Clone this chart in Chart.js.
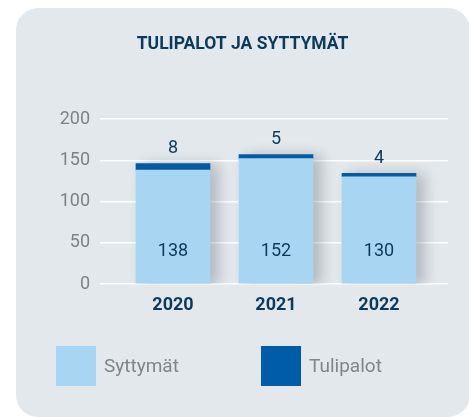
<!DOCTYPE html>
<html><head><meta charset="utf-8">
<script src="https://cdn.jsdelivr.net/npm/chart.js@4"></script>
<style>
html,body{margin:0;padding:0;background:#fff;}
#wrap{position:relative;width:469px;height:417px;overflow:hidden;}
#card{position:absolute;left:16px;top:8px;width:454px;height:409px;background:#e3e8ec;border-radius:22px;}
canvas{position:absolute;left:0;top:0;}
</style></head><body>
<div id="wrap"><div id="card"></div><canvas id="c" width="469" height="417"></canvas></div>
<script>
const chartTitle = 'TULIPALOT JA SYTTYMÄT';
const years = ['2020', '2021', '2022'];
const seriesNames = ['Syttymät', 'Tulipalot'];
const syttymat = [138, 152, 130];
const tulipalot = [8, 5, 4];
const yTickValues = [0, 50, 100, 150, 200];

const LIGHT = '#a7d5f2', DARK = '#005ca9', NAVY = '#0c3a5c', GRAY = '#7d8287';
const FONT = 'Roboto';

const barShadow = {
  id: 'barShadow',
  beforeDatasetsDraw(c) {
    const ctx = c.ctx; ctx.save();
    ctx.shadowColor = 'rgba(70,80,90,0.33)';
    ctx.shadowBlur = 14; ctx.shadowOffsetX = 8; ctx.shadowOffsetY = 2;
  },
  afterDatasetsDraw(c) { c.ctx.restore(); }
};
const valueLabels = {
  id: 'valueLabels',
  afterDatasetsDraw(c) {
    const ctx = c.ctx; ctx.save();
    ctx.font = '18px ' + FONT; ctx.fillStyle = NAVY;
    ctx.textAlign = 'center'; ctx.textBaseline = 'middle';
    c.getDatasetMeta(0).data.forEach((b, i) => ctx.fillText(String(syttymat[i]), b.x, b.base - 32));
    c.getDatasetMeta(1).data.forEach((b, i) => ctx.fillText(String(tulipalot[i]), b.x, b.y - 15));
    ctx.restore();
  }
};
const customLegend = {
  id: 'customLegend',
  afterDraw(c) {
    const ctx = c.ctx; ctx.save();
    const top = c.chartArea.bottom + 62;
    ctx.font = '19px ' + FONT; ctx.textBaseline = 'middle'; ctx.textAlign = 'left';
    c.data.datasets.forEach((ds, i) => {
      const x = 56 + i * 205;
      ctx.fillStyle = ds.backgroundColor; ctx.fillRect(x, top, 40, 40);
      ctx.fillStyle = '#80858a'; ctx.fillText(ds.label, x + 48, top + 21);
    });
    ctx.restore();
  }
};

new Chart(document.getElementById('c'), {
  type: 'bar',
  data: {
    datasets: [
      { label: seriesNames[0], data: syttymat.map((v, i) => ({ x: i, y: v })), backgroundColor: LIGHT, barThickness: 74 },
      { label: seriesNames[1], data: tulipalot.map((v, i) => ({ x: i, y: v })), backgroundColor: DARK, barThickness: 74 }
    ]
  },
  options: {
    responsive: false, animation: false, devicePixelRatio: 1,
    layout: { padding: { left: 37, right: 21, top: 0, bottom: 103 } },
    plugins: {
      legend: { display: false }, tooltip: { enabled: false },
      title: { display: true, text: chartTitle, color: NAVY,
        font: { family: FONT, size: 17.5, weight: 'bold' }, padding: { top: 34, bottom: 64 } }
    },
    scales: {
      x: {
        type: 'linear', stacked: true, offset: false, min: -0.7087, max: 2.6699,
        grid: { display: false }, border: { display: false },
        afterBuildTicks: s => { s.ticks = years.map((_, i) => ({ value: i })); },
        afterFit: s => { s.height = 30; },
        ticks: { callback: v => years[v], color: NAVY, font: { family: FONT, size: 18, weight: 'bold' }, padding: 3, autoSkip: false, maxRotation: 0 }
      },
      y: {
        stacked: true, min: 0, max: 200,
        afterBuildTicks: s => { s.ticks = yTickValues.map(v => ({ value: v })); },
        afterFit: s => { s.width = 63; },
        grid: { color: '#ffffff', lineWidth: 1.5, drawTicks: false },
        border: { display: false },
        ticks: { color: GRAY, font: { family: FONT, size: 18 }, padding: 10 }
      }
    }
  },
  plugins: [barShadow, valueLabels, customLegend]
});
</script>
</body></html>
